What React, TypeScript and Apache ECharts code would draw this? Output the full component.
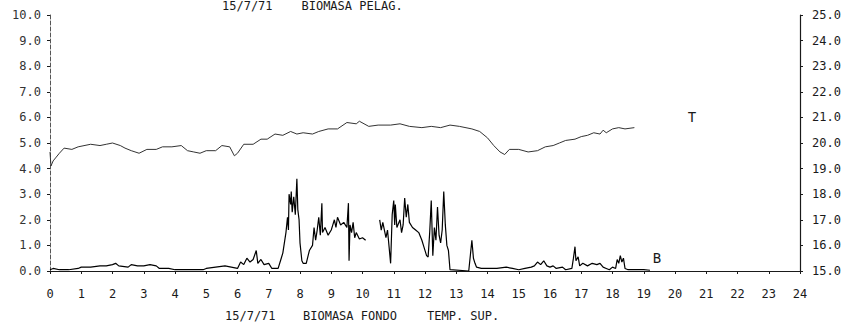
import React, { useEffect, useRef } from "react";
import * as echarts from "echarts";

const hourTicks: number[] = Array.from({ length: 25 }, (_, i) => i);
const topTitle = "15/7/71    BIOMASA PELAG.";
const bottomDate = "15/7/71";
const bottomB = "BIOMASA FONDO";
const bottomT = "TEMP. SUP.";

// Biomasa fondo (left axis), [hour, value]
const biomasa: (number | null)[][] = [
  [0, 0.05], [0.1, 0.1], [0.3, 0.05], [0.6, 0.05], [0.9, 0.1], [1.0, 0.15], [1.3, 0.15], [1.6, 0.2],
  [1.8, 0.2], [2.0, 0.25], [2.1, 0.3], [2.2, 0.2], [2.5, 0.15], [2.6, 0.25], [2.8, 0.2], [3.0, 0.2],
  [3.2, 0.25], [3.4, 0.2], [3.5, 0.1], [3.8, 0.1], [4.0, 0.05], [4.3, 0.05], [4.6, 0.05], [4.9, 0.05],
  [5.0, 0.1], [5.3, 0.15], [5.6, 0.2], [5.8, 0.15], [6.0, 0.1], [6.1, 0.35], [6.2, 0.25], [6.3, 0.5],
  [6.4, 0.35], [6.5, 0.45], [6.6, 0.8], [6.65, 0.3], [6.75, 0.45], [6.85, 0.25], [7.0, 0.3], [7.1, 0.1],
  [7.3, 0.1], [7.4, 0.5], [7.45, 0.7], [7.5, 1.1], [7.55, 1.5], [7.6, 2.1], [7.63, 1.6], [7.65, 3.0],
  [7.7, 2.6], [7.72, 3.1], [7.75, 2.3], [7.8, 2.9], [7.85, 2.2], [7.9, 3.6], [7.93, 2.4], [7.97, 2.0],
  [8.0, 1.1], [8.06, 0.4], [8.1, 0.3], [8.2, 0.3], [8.3, 0.8], [8.4, 1.0], [8.45, 1.7], [8.5, 1.2],
  [8.55, 1.6], [8.6, 2.1], [8.65, 1.4], [8.7, 2.65], [8.72, 1.5], [8.8, 1.7], [8.9, 1.4], [9.0, 1.6],
  [9.05, 1.8], [9.1, 2.0], [9.15, 1.7], [9.2, 2.1], [9.3, 1.8], [9.4, 1.9], [9.5, 1.7], [9.55, 2.65],
  [9.57, 0.4], [9.6, 1.8], [9.65, 1.5], [9.7, 1.9], [9.75, 1.3], [9.8, 1.5], [9.9, 1.25], [10.0, 1.3],
  [10.1, 1.2], [10.15, null], [10.55, 2.0], [10.6, 1.6], [10.65, 1.9], [10.75, 1.3], [10.8, 1.6],
  [10.9, 0.3], [10.95, 2.2], [11.0, 2.75], [11.03, 1.8], [11.05, 2.6], [11.1, 1.7], [11.2, 2.0],
  [11.25, 1.5], [11.3, 1.8], [11.35, 2.85], [11.4, 2.1], [11.45, 2.6], [11.5, 1.9], [11.6, 1.7],
  [11.7, 1.6], [11.8, 1.5], [11.9, 1.2], [11.95, 1.0], [12.05, 0.6], [12.1, 0.55], [12.15, 1.5],
  [12.2, 2.75], [12.25, 0.6], [12.3, 1.7], [12.35, 1.2], [12.4, 2.5], [12.45, 1.4], [12.5, 1.1],
  [12.55, 1.6], [12.6, 3.1], [12.65, 1.8], [12.7, 1.0], [12.75, 0.8], [12.8, 0.05], [13.4, 0],
  [13.5, 1.2], [13.55, 0.5], [13.6, 0.3], [13.65, 0.15], [13.8, 0.1], [14.0, 0.1], [14.3, 0.1],
  [14.6, 0.15], [14.8, 0.1], [15.0, 0.05], [15.2, 0.1], [15.4, 0.15], [15.5, 0.2], [15.6, 0.35],
  [15.7, 0.25], [15.8, 0.4], [15.9, 0.2], [16.0, 0.15], [16.1, 0.2], [16.2, 0.1], [16.4, 0.15],
  [16.5, 0.05], [16.7, 0.1], [16.75, 0.5], [16.8, 0.95], [16.83, 0.4], [16.9, 0.55], [16.95, 0.2],
  [17.05, 0.3], [17.2, 0.2], [17.35, 0.3], [17.5, 0.25], [17.6, 0.3], [17.7, 0.15], [17.8, 0.1],
  [17.9, 0.05], [18.0, 0.15], [18.1, 0.1], [18.15, 0.45], [18.2, 0.3], [18.25, 0.6], [18.3, 0.35],
  [18.35, 0.5], [18.4, 0.1], [18.5, 0.05], [18.8, 0.05], [19.0, 0.05], [19.2, 0.03],
];

// Temperatura superficial (right axis), [hour, °C]
const temperatura: number[][] = [
  [0, 19.65], [0.03, 19.1], [0.1, 19.3], [0.2, 19.45], [0.3, 19.6], [0.45, 19.8], [0.7, 19.75],
  [0.9, 19.85], [1.3, 19.95], [1.6, 19.9], [1.8, 19.95], [2.0, 20.0], [2.25, 19.9], [2.4, 19.8],
  [2.6, 19.7], [2.85, 19.6], [3.1, 19.75], [3.4, 19.75], [3.6, 19.85], [3.9, 19.85], [4.2, 19.9],
  [4.4, 19.7], [4.6, 19.65], [4.8, 19.6], [5.0, 19.7], [5.3, 19.7], [5.5, 19.9], [5.75, 19.85],
  [5.9, 19.5], [6.0, 19.6], [6.2, 19.95], [6.5, 19.95], [6.75, 20.15], [6.95, 20.15], [7.2, 20.35],
  [7.45, 20.3], [7.7, 20.45], [7.9, 20.35], [8.1, 20.4], [8.4, 20.35], [8.6, 20.45], [8.9, 20.55],
  [9.2, 20.55], [9.5, 20.8], [9.8, 20.75], [9.9, 20.85], [10.2, 20.65], [10.5, 20.7], [10.9, 20.7],
  [11.2, 20.75], [11.5, 20.65], [11.9, 20.6], [12.2, 20.65], [12.5, 20.6], [12.8, 20.7], [13.1, 20.65],
  [13.5, 20.55], [13.75, 20.45], [14.0, 20.2], [14.2, 19.9], [14.4, 19.65], [14.55, 19.55], [14.7, 19.75],
  [15.0, 19.75], [15.3, 19.65], [15.6, 19.7], [15.85, 19.85], [16.1, 19.9], [16.3, 20.0], [16.5, 20.1],
  [16.8, 20.15], [17.0, 20.25], [17.2, 20.3], [17.4, 20.4], [17.6, 20.35], [17.7, 20.5], [17.8, 20.4],
  [18.0, 20.55], [18.2, 20.6], [18.4, 20.55], [18.7, 20.6],
];

const FONT = "DejaVu Sans Mono";
const INK = "#1a1a1a";

export default function App() {
  const ref = useRef<HTMLDivElement>(null);
  useEffect(() => {
    if (!ref.current) return;
    const chart = echarts.init(ref.current, null, { renderer: "svg" });
    chart.setOption({
      animation: false,
      backgroundColor: "#ffffff",
      grid: { left: 50, right: 47, top: 15, bottom: 57 },
      xAxis: {
        type: "value",
        min: hourTicks[0],
        max: hourTicks[hourTicks.length - 1],
        interval: 1,
        axisLine: { show: true, onZero: false, lineStyle: { color: INK, width: 1.2 } },
        axisTick: { show: true, length: 3, lineStyle: { color: INK } },
        axisLabel: { margin: 17, fontFamily: FONT, fontSize: 12, color: INK },
        splitLine: { show: false },
      },
      yAxis: [
        {
          type: "value",
          position: "left",
          min: 0,
          max: 10,
          interval: 1,
          axisLine: { show: true, lineStyle: { color: "#555", type: "dashed", width: 1 } },
          axisTick: { show: true, length: 3, lineStyle: { color: INK } },
          axisLabel: {
            margin: 9,
            fontFamily: FONT,
            fontSize: 12,
            color: "#333",
            formatter: (v: number) => v.toFixed(1),
          },
          splitLine: { show: false },
        },
        {
          type: "value",
          position: "right",
          min: 15,
          max: 25,
          interval: 1,
          axisLine: { show: true, lineStyle: { color: INK, width: 1.2 } },
          axisTick: { show: true, length: 3, lineStyle: { color: INK } },
          axisLabel: {
            margin: 12,
            fontFamily: FONT,
            fontSize: 12,
            color: INK,
            formatter: (v: number) => v.toFixed(1),
          },
          splitLine: { show: false },
        },
      ],
      series: [
        {
          name: "B",
          type: "line",
          yAxisIndex: 0,
          data: biomasa,
          showSymbol: false,
          connectNulls: false,
          lineStyle: { color: "#000", width: 1.2 },
          markPoint: {
            symbol: "circle",
            symbolSize: 0,
            data: [{ coord: [19.42, 0.5], value: "B" }],
            label: { show: true, formatter: "B", fontFamily: FONT, fontSize: 14, color: INK },
          },
        },
        {
          name: "T",
          type: "line",
          yAxisIndex: 1,
          data: temperatura,
          showSymbol: false,
          lineStyle: { color: "#333", width: 1 },
          markPoint: {
            symbol: "circle",
            symbolSize: 0,
            data: [{ coord: [20.54, 21.0], value: "T" }],
            label: { show: true, formatter: "T", fontFamily: FONT, fontSize: 14, color: INK },
          },
        },
      ],
      graphic: [
        {
          type: "text",
          left: 222,
          top: 0,
          style: { text: topTitle, fontFamily: FONT, fontSize: 12, fill: INK },
        },
        {
          type: "text",
          left: 225,
          top: 310,
          style: { text: bottomDate, fontFamily: FONT, fontSize: 12, fill: INK },
        },
        {
          type: "text",
          left: 303,
          top: 310,
          style: { text: bottomB, fontFamily: FONT, fontSize: 12, fill: INK },
        },
        {
          type: "text",
          left: 427,
          top: 310,
          style: { text: bottomT, fontFamily: FONT, fontSize: 12, fill: INK },
        },
      ],
    });
    return () => chart.dispose();
  }, []);
  return <div ref={ref} style={{ width: 847, height: 328, position: "absolute", left: 0, top: 0 }} />;
}
